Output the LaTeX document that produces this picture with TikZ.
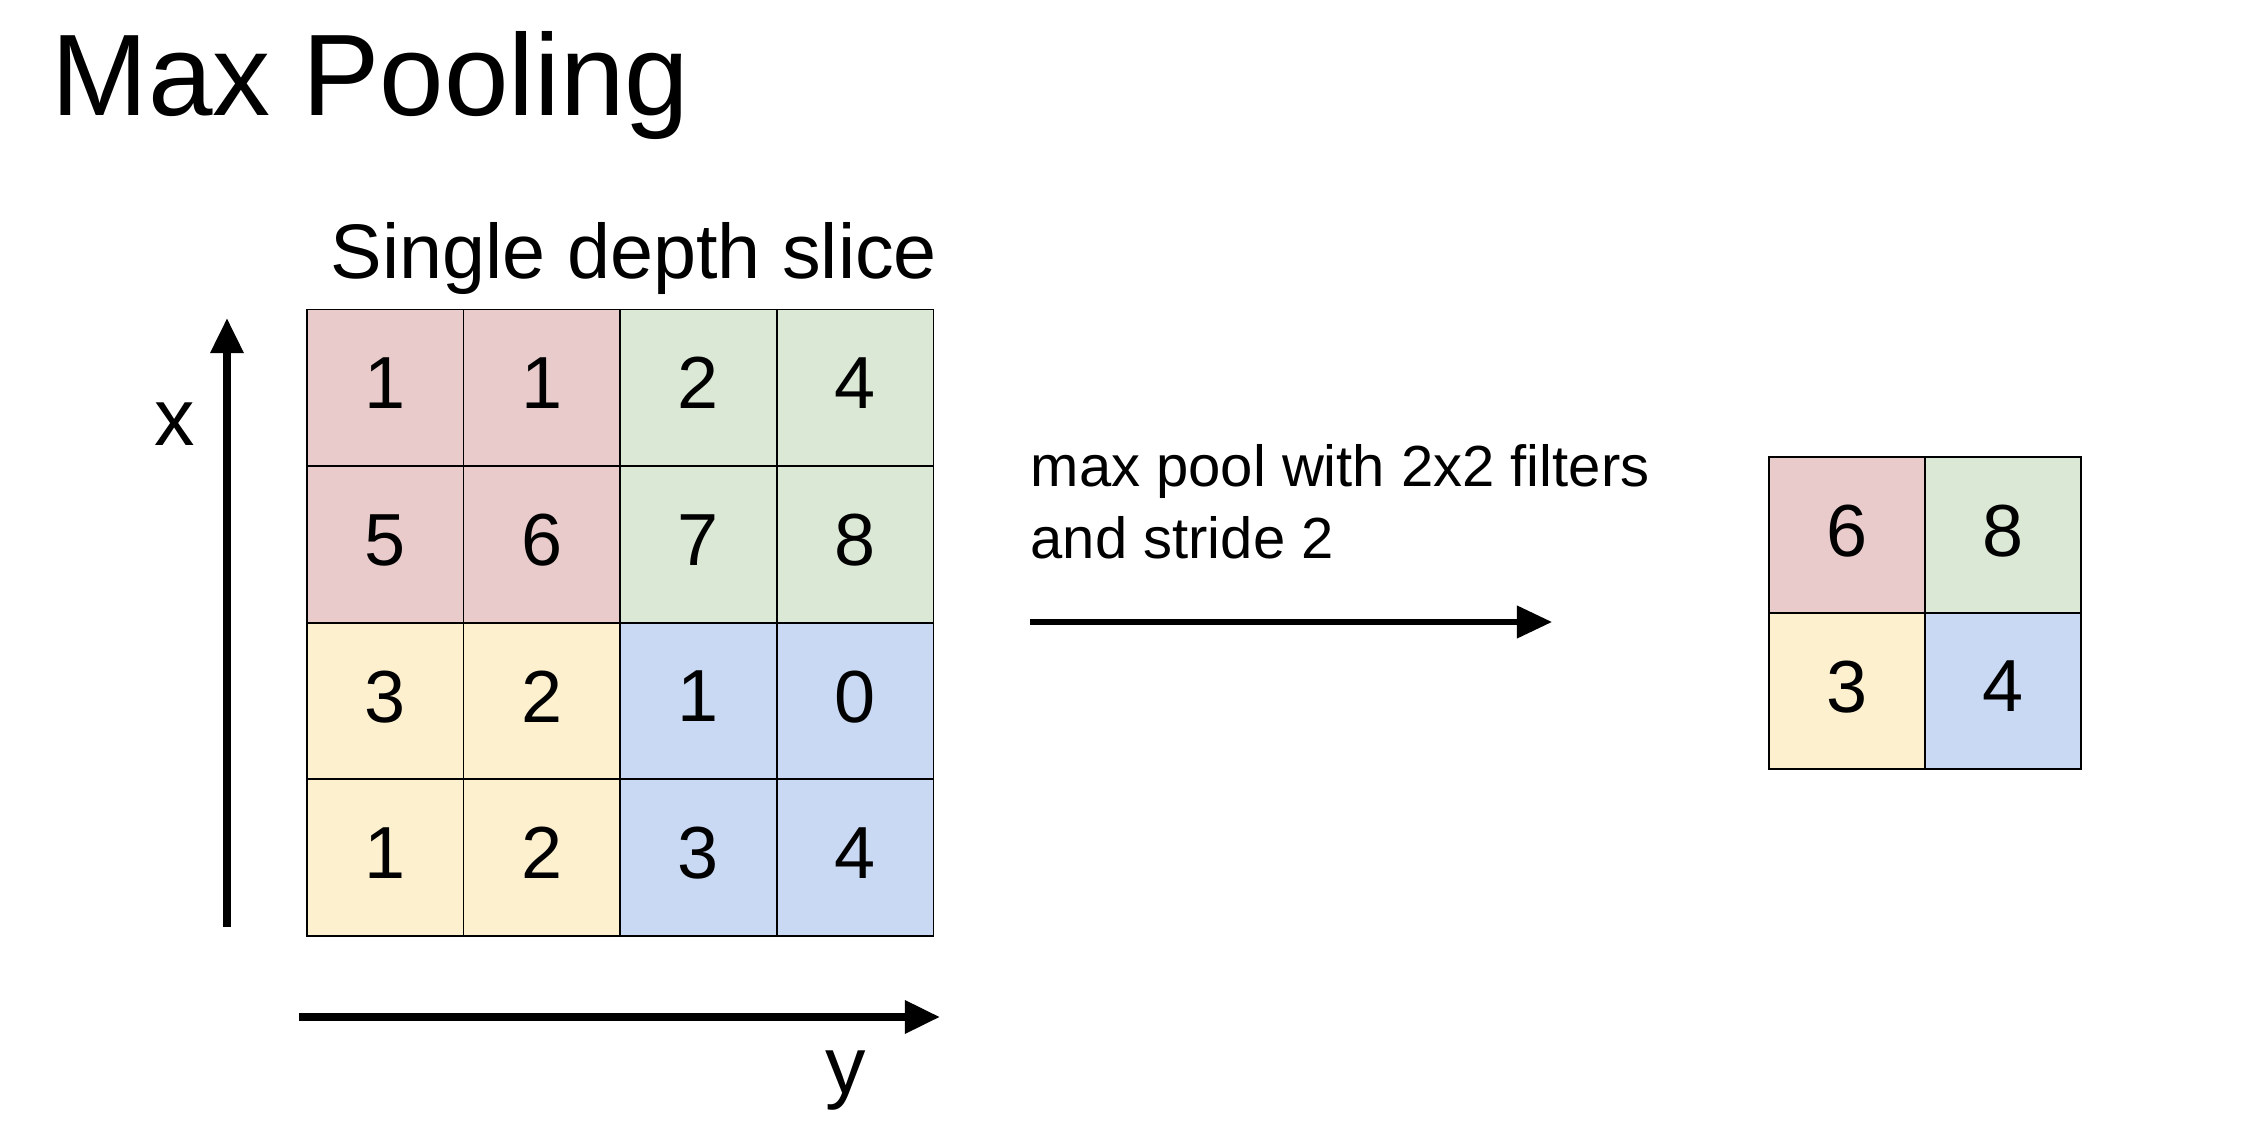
\documentclass[tikz,border=0pt]{standalone}
\usepackage{fontspec}
\setmainfont{Liberation Sans}
\usepackage{xcolor}
\usetikzlibrary{arrows.meta,positioning}

\definecolor{poolred}{HTML}{EACBCB}
\definecolor{poolgreen}{HTML}{DBE8D5}
\definecolor{poolyellow}{HTML}{FCF0CF}
\definecolor{poolblue}{HTML}{C9D8F3}

\begin{document}
\begin{tikzpicture}[x=1cm,y=1cm,>={Triangle[length=10pt,width=9pt]}]
  \useasboundingbox (0,0) rectangle (22.68,11.34);
  \tikzset{
    cell/.style={draw,line width=0.5pt,minimum size=1.566cm,inner sep=0pt,
      outer sep=0pt,text depth=2.6pt,font=\fontsize{21}{25}\selectfont},
    axislab/.style={anchor=base,font=\fontsize{23}{28}\selectfont},
  }
  % title
  \node[anchor=base west,font=\fontsize{33}{40}\selectfont] (title) at (0.39,10.18) {Max Pooling};
  % input slice
  \node[anchor=base,font=\fontsize{22}{26}\selectfont] (slice) at (6.34,8.55) {Single depth slice};
  \foreach \r/\c/\v/\col in {1/1/1/poolred,1/2/1/poolred,1/3/2/poolgreen,1/4/4/poolgreen,
                             2/1/5/poolred,2/2/6/poolred,2/3/7/poolgreen,2/4/8/poolgreen,
                             3/1/3/poolyellow,3/2/2/poolyellow,3/3/1/poolblue,3/4/0/poolblue,
                             4/1/1/poolyellow,4/2/2/poolyellow,4/3/3/poolblue,4/4/4/poolblue}{
    \node[cell,fill=\col] (in-\r-\c) at ({3.07+(\c-0.5)*1.566},{8.245-(\r-0.5)*1.566}) {\v};
  }
  % axes
  \coordinate (xtail) at (2.27,2.07);
  \coordinate (xhead) at (2.27,8.16);
  \draw[->,line width=2.2pt] (xtail) -- (xhead);
  \node[axislab] (xlab) at (1.75,6.88) {x};
  \coordinate (ytail) at (2.99,1.17);
  \coordinate (yhead) at (9.40,1.17);
  \draw[->,line width=2.2pt] (ytail) -- (yhead);
  \node[axislab] (ylab) at (8.46,0.41) {y};
  % pooling step
  \node[anchor=north west,align=left,inner sep=0pt,font=\fontsize{16.5}{20.5}\selectfont]
    (pooltxt) at (10.30,6.90) {max pool with 2x2 filters\\and stride 2};
  \coordinate (pooltail) at (10.30,5.12);
  \coordinate (poolhead) at (15.52,5.12);
  \draw[->,line width=1.6pt] (pooltail) -- (poolhead);
  % output
  \foreach \r/\c/\v/\col in {1/1/6/poolred,1/2/8/poolgreen,2/1/3/poolyellow,2/2/4/poolblue}{
    \node[cell,fill=\col,minimum size=1.56cm] (out-\r-\c) at ({17.69+(\c-0.5)*1.56},{6.77-(\r-0.5)*1.56}) {\v};
  }
\end{tikzpicture}
\end{document}
